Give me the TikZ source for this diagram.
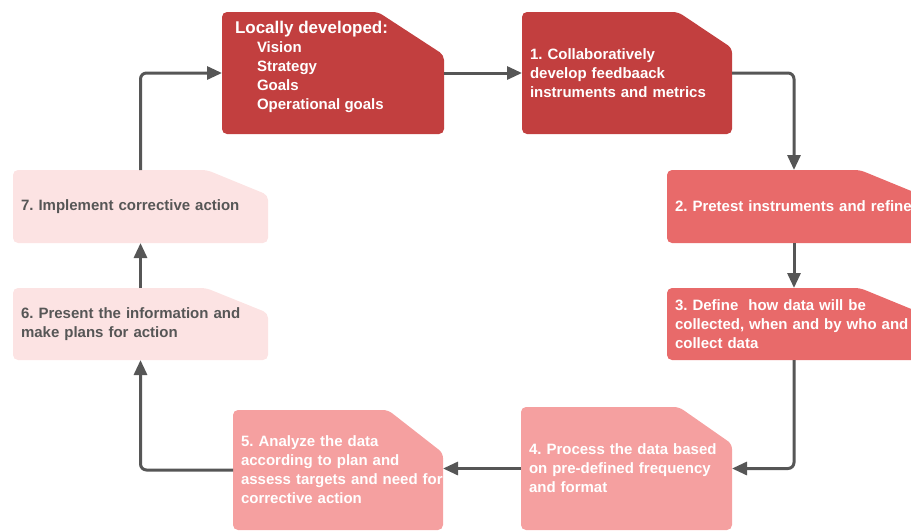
\documentclass[tikz,border=0pt]{standalone}
\usepackage{fontspec}
\setmainfont{Liberation Sans}
\usetikzlibrary{arrows.meta,backgrounds}

\definecolor{stepdark}{HTML}{C23F3F}
\definecolor{stepmid}{HTML}{E86A6A}
\definecolor{steplight}{HTML}{F5A0A0}
\definecolor{steppale}{HTML}{FCE3E3}
\definecolor{flowgrey}{HTML}{565656}

\tikzset{
  card/.style={rectangle, anchor=north west, inner xsep=8pt, inner ysep=0pt, outer sep=0pt,
    align=left, text=white, font=\fontsize{15}{19}\selectfont\bfseries\frenchspacing},
  flow/.style={draw=flowgrey, line width=3pt, rounded corners=6pt,
    -{Triangle[length=15pt,width=13pt]}},
}

\begin{document}
\frenchspacing
\begin{tikzpicture}[x=1pt, y=-1pt]
  \clip (0,0) rectangle (911,531);

  % top row
  \node[card, inner xsep=13pt, minimum width=222pt, minimum height=122pt] (goals) at (222,12)
    {\parbox[c][104pt][t]{196pt}{{\fontsize{17}{19}\selectfont Locally developed:}\\
      \hspace*{22pt}Vision\\
      \hspace*{22pt}Strategy\\
      \hspace*{22pt}Goals\\
      \hspace*{22pt}Operational goals}};
  \node[card, text width=194pt, minimum height=122pt] (collab) at (522,12)
    {1. Collaboratively\\develop feedbaack\\instruments and metrics};

  % right column
  \node[card, text width=238pt, minimum height=73pt] (pretest) at (667,170)
    {\makebox[238pt][l]{2. Pretest instruments and refine}};
  \node[card, text width=238pt, minimum height=72pt] (define) at (667,288)
    {3. Define~ how data will be\\collected, when and by who and\\collect data};

  % bottom row
  \node[card, text width=195pt, minimum height=123pt] (process) at (521,407)
    {4. Process the data based\\on pre-defined frequency\\and format};
  \node[card, text width=194pt, minimum height=120pt] (analyze) at (233,410)
    {5. Analyze the data\\according to plan and\\\makebox[194pt][l]{assess targets and need for}\\corrective action};

  % left column
  \node[card, text=flowgrey, text width=239pt, minimum height=72pt] (present) at (13,288)
    {6. Present the information and\\make plans for action};
  \node[card, text=flowgrey, text width=239pt, minimum height=73pt] (implement) at (13,170)
    {7. Implement corrective action};

  % card shapes with the clipped top right corner
  \begin{scope}[on background layer]
    \foreach \n/\cx/\cy/\c in {goals/66/43/stepdark, collab/54/36/stepdark,
        pretest/61/25/stepmid, define/61/25/stepmid,
        process/53/37/steplight, analyze/55/43/steplight,
        present/62/25/steppale, implement/61/25/steppale}
      \fill[\c, rounded corners=5pt] (\n.south west) -- (\n.north west)
        -- ([xshift=-\cx pt]\n.north east) -- ([yshift=-\cy pt]\n.north east)
        -- (\n.south east) -- cycle;
  \end{scope}

  % the cycle
  \draw[flow] (implement.north) |- (goals.west);
  \draw[flow] (goals.east) -- (collab.west);
  \draw[flow] (collab.east) -| (pretest.north);
  \draw[flow] (pretest.south) -- (define.north);
  \draw[flow] (define.south) |- (process.east);
  \draw[flow] (process.west) -- (process.west -| analyze.east);
  \draw[flow] (analyze.west) -| (present.south);
  \draw[flow] (present.north) -- (implement.south);

\end{tikzpicture}
\end{document}
